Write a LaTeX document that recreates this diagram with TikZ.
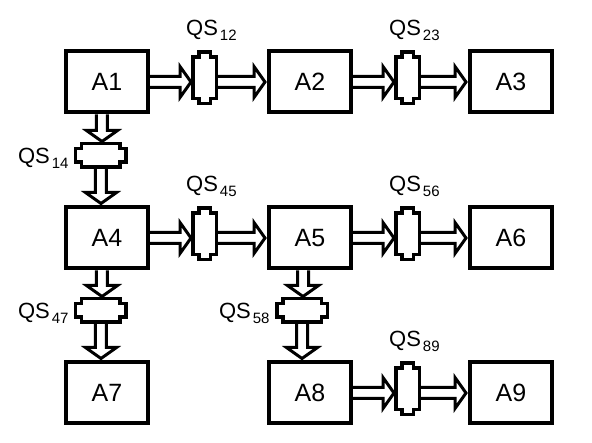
\documentclass[tikz,border=0pt]{standalone}
\usepackage{fontspec}
\setmainfont{Liberation Sans}
\usetikzlibrary{positioning,calc}
\newcommand{\qsname}[1]{QS\kern2pt{\fontsize{15}{15}\selectfont\raisebox{-5pt}{#1}}}
\tikzset{
    %Define style for the stations
    station/.style={
           rectangle,
           draw=black, line width=4pt,
           outer sep=2pt,
           minimum width=82pt,
           minimum height=61pt,
           font=\fontsize{25}{30}\selectfont},
    %Define styles for the queues
    vqueue/.style={
           rectangle,
           inner sep=0pt, outer sep=0pt,
           minimum width=23.5pt,
           minimum height=51.5pt},
    hqueue/.style={
           rectangle,
           inner sep=0pt, outer sep=0pt,
           minimum width=50.5pt,
           minimum height=23.5pt},
    qline/.style={line width=3.5pt, line join=miter},
    qlabel/.style={inner sep=0pt, font=\fontsize{22}{26}\selectfont},
    % Define block arrow styles
    hpipe/.style={
           line width=3pt,
           to path={let \p1=(\tikztostart), \p2=(\tikztotarget) in
             (\x1,\y1+5.5pt) -- (\x2-13pt,\y1+5.5pt) -- (\x2-13pt,\y1+15.5pt)
             -- (\x2-2pt,\y1) -- (\x2-13pt,\y1-15.5pt) -- (\x2-13pt,\y1-5.5pt)
             -- (\x1,\y1-5.5pt)}},
    vpipe/.style={
           line width=3pt,
           to path={let \p1=(\tikztostart), \p2=(\tikztotarget) in
             (\x1+5.5pt,\y1) -- (\x1+5.5pt,\y2+13pt) -- (\x1+15.5pt,\y2+13pt)
             -- (\x1,\y2+2pt) -- (\x1-15.5pt,\y2+13pt) -- (\x1-5.5pt,\y2+13pt)
             -- (\x1-5.5pt,\y1)}}
}
\begin{document}
\begin{tikzpicture}
 \useasboundingbox (-107pt,82pt) rectangle (485pt,-361pt);

 % stations
 \node[station] (A1) at (0,0) {A1};
 \node[station, right=117pt of A1] (A2) {A2};
 \node[station, right=115pt of A2] (A3) {A3};
 \node[station, below=91pt of A1] (A4) {A4};
 \node[station, right=117pt of A4] (A5) {A5};
 \node[station, right=115pt of A5] (A6) {A6};
 \node[station, below=90pt of A4] (A7) {A7};
 \node[station, right=117pt of A7] (A8) {A8};
 \node[station, right=115pt of A8] (A9) {A9};

 % queues
 \node[vqueue, right=43pt of A1, yshift=4pt] (Q12) {};
 \node[vqueue, right=43pt of A2, yshift=4pt] (Q23) {};
 \node[vqueue, right=43pt of A4, yshift=4pt] (Q45) {};
 \node[vqueue, right=43pt of A5, yshift=4pt] (Q56) {};
 \node[vqueue, right=43pt of A8, yshift=4pt] (Q89) {};
 \node[hqueue, below=29pt of A1, xshift=-6pt] (Q14) {};
 \node[hqueue, below=28pt of A4, xshift=-6pt] (Q47) {};
 \node[hqueue, below=28pt of A5, xshift=-8pt] (Q58) {};

 \foreach \q in {Q12,Q23,Q45,Q56,Q89}
   \draw[qline] ([yshift=-5pt]\q.north west) -- ([yshift=5pt]\q.south west)
     -- ++(6pt,0) -- ++(0,-5pt) -- ([xshift=-6pt]\q.south east) -- ++(0,5pt)
     -- ++(6pt,0) -- ([yshift=-5pt]\q.north east) -- ++(-6pt,0) -- ++(0,5pt)
     -- ([xshift=6pt]\q.north west) -- ++(0,-5pt) -- cycle;
 \foreach \q in {Q14,Q47,Q58}
   \draw[qline] ([xshift=6pt]\q.north west) -- ([xshift=-6pt]\q.north east)
     -- ++(0,-5pt) -- ++(6pt,0) -- ([yshift=5pt]\q.south east) -- ++(-6pt,0)
     -- ++(0,-5pt) -- ([xshift=6pt]\q.south west) -- ++(0,5pt) -- ++(-6pt,0)
     -- ([yshift=-5pt]\q.north west) -- ++(6pt,0) -- cycle;

 % queue labels
 \node[qlabel, anchor=base west] (L12) at ([xshift=-7pt,yshift=17pt]Q12.north west) {\qsname{12}};
 \node[qlabel, anchor=base west] (L23) at ([xshift=-7pt,yshift=17pt]Q23.north west) {\qsname{23}};
 \node[qlabel, anchor=base west] (L45) at ([xshift=-7pt,yshift=17pt]Q45.north west) {\qsname{45}};
 \node[qlabel, anchor=base west] (L56) at ([xshift=-7pt,yshift=17pt]Q56.north west) {\qsname{56}};
 \node[qlabel, anchor=base west] (L89) at ([xshift=-7pt,yshift=17pt]Q89.north west) {\qsname{89}};
 \node[qlabel, anchor=base east] (L14) at ([xshift=-7pt,yshift=-8pt]Q14.west) {\qsname{14}};
 \node[qlabel, anchor=base east] (L47) at ([xshift=-7pt,yshift=-8pt]Q47.west) {\qsname{47}};
 \node[qlabel, anchor=base east] (L58) at ([xshift=-7pt,yshift=-8pt]Q58.west) {\qsname{58}};

 % flows
 \draw[hpipe] (A1.east) to (Q12.west);
 \draw[hpipe] (Q12.east |- A2.west) to (A2.west);
 \draw[hpipe] (A2.east) to (Q23.west);
 \draw[hpipe] (Q23.east |- A3.west) to (A3.west);
 \draw[hpipe] (A4.east) to (Q45.west);
 \draw[hpipe] (Q45.east |- A5.west) to (A5.west);
 \draw[hpipe] (A5.east) to (Q56.west);
 \draw[hpipe] (Q56.east |- A6.west) to (A6.west);
 \draw[hpipe] (A8.east) to (Q89.west);
 \draw[hpipe] (Q89.east |- A9.west) to (A9.west);
 \draw[vpipe] ([xshift=-5pt]A1.south) to (Q14.north);
 \draw[vpipe] (Q14.south) to (A4.north);
 \draw[vpipe] ([xshift=-5pt]A4.south) to (Q47.north);
 \draw[vpipe] (Q47.south) to (A7.north);
 \draw[vpipe] ([xshift=-7pt]A5.south) to (Q58.north);
 \draw[vpipe] (Q58.south) to (A8.north);
\end{tikzpicture}
\end{document}
